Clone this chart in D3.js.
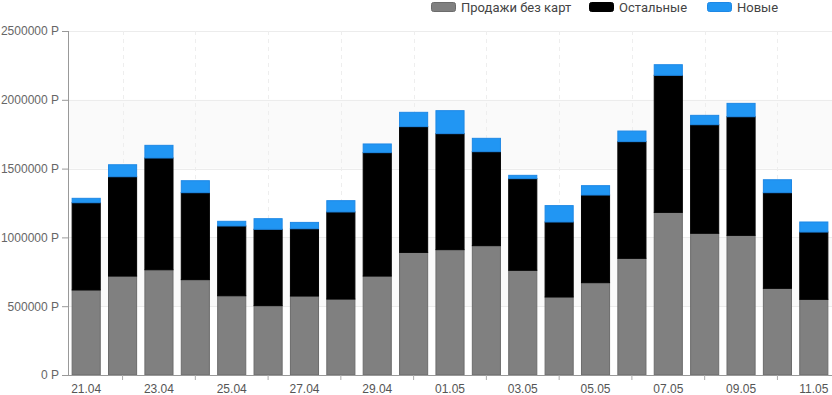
<!DOCTYPE html>
<html>
<head>
<meta charset="utf-8">
<script src="https://cdn.jsdelivr.net/npm/d3@7"></script>
<style>
  body { margin: 0; background: #fff; }
  svg { display: block; font-family: Roboto, "Noto Sans", sans-serif; }
</style>
</head>
<body>
<svg id="chart" width="832" height="395"></svg>
<script>
"use strict";

// даты по оси X
var dates = ["21.04","22.04","23.04","24.04","25.04","26.04","27.04","28.04","29.04","30.04",
             "01.05","02.05","03.05","04.05","05.05","06.05","07.05","08.05","09.05","10.05","11.05"];

// значения серий (руб.)
var salesNoCards = [618000,719000,765000,693000,576000,504000,574000,552000,719000,891000,
                    911000,940000,761000,567000,671000,848000,1182000,1030000,1015000,630000,550000];
var others = [634000,722000,812000,632000,507000,555000,489000,633000,897000,914000,
              843000,683000,666000,545000,637000,848000,996000,789000,862000,695000,489000];
var newOnes = [32000,87000,92000,87000,34000,77000,46000,82000,63000,104000,
               167000,97000,24000,119000,68000,77000,77000,68000,97000,94000,73000];

var seriesNames = ["Продажи без карт", "Остальные", "Новые"];
var yTicks = [0, 500000, 1000000, 1500000, 2000000, 2500000];

var fills = ["#808080", "#000000", "#2196f3"];
var strokes = ["#6c6c6c", "#000000", "#1e88e5"];

var svg = d3.select("#chart");
var margin = {left: 68, right: 0, top: 31, bottom: 20};
var width = 832 - margin.left - margin.right;
var height = 395 - margin.top - margin.bottom;

var g = svg.append("g").attr("transform", "translate(" + margin.left + "," + margin.top + ")");

var x = d3.scaleBand().domain(dates).range([0, width]).paddingInner(0.2).paddingOuter(0.1);
var y = d3.scaleLinear().domain([0, 2500000]).range([height, 0]);

// полосы фона
for (var i = 0; i < yTicks.length - 1; i++) {
  if (i % 2 === 0) continue;
  g.append("rect")
    .attr("x", 0).attr("width", width)
    .attr("y", y(yTicks[i + 1])).attr("height", y(yTicks[i]) - y(yTicks[i + 1]))
    .attr("fill", "#fafafa");
}

// горизонтальная сетка
g.selectAll(".hgrid").data(yTicks).enter().append("line")
  .attr("x1", 0).attr("x2", width)
  .attr("y1", function(d) { return Math.round(y(d)) + 0.5; })
  .attr("y2", function(d) { return Math.round(y(d)) + 0.5; })
  .attr("stroke", "#ececec");

// вертикальная сетка (пунктир) на неподписанных датах
g.selectAll(".vgrid").data(dates.filter(function(d, i) { return i % 2 === 1; })).enter().append("line")
  .attr("x1", function(d) { return Math.round(x(d) + x.bandwidth() / 2) + 0.5; })
  .attr("x2", function(d) { return Math.round(x(d) + x.bandwidth() / 2) + 0.5; })
  .attr("y1", 0).attr("y2", height)
  .attr("stroke", "#eeeeee")
  .attr("stroke-dasharray", "4,4");

// стек
var table = dates.map(function(d, i) {
  return {date: d, a: salesNoCards[i], b: others[i], c: newOnes[i]};
});
var stacked = d3.stack().keys(["a", "b", "c"])(table);

stacked.forEach(function(layer, k) {
  g.selectAll(".bar" + k).data(layer).enter().append("rect")
    .attr("x", function(d) { return x(d.data.date) + 0.5; })
    .attr("width", x.bandwidth() - 1)
    .attr("y", function(d) { return y(d[1]); })
    .attr("height", function(d) { return y(d[0]) - y(d[1]); })
    .attr("fill", fills[k])
    .attr("stroke", strokes[k])
    .attr("stroke-width", 1);
});

// ось Y
var yAxis = g.append("g")
  .call(d3.axisLeft(y).tickValues(yTicks).tickSize(6).tickPadding(3)
    .tickFormat(function(d) { return d + " Р"; }));
yAxis.select(".domain").attr("stroke", "#999").attr("d", "M0.5,0V" + height);
yAxis.selectAll(".tick line").attr("stroke", "#999");
yAxis.selectAll("text").attr("fill", "#666").style("font-size", "12px").attr("font-family", null);

// ось X
var xAxis = g.append("g")
  .attr("transform", "translate(0," + height + ")")
  .call(d3.axisBottom(x).tickSize(5).tickPadding(4));
xAxis.select(".domain").attr("stroke", "#999").attr("d", "M0,0.5H" + width);
xAxis.selectAll(".tick line").attr("stroke", "#aaa")
  .attr("display", function(d, i) { return i % 2 === 0 ? "none" : null; });
xAxis.selectAll("text").attr("fill", "#555").style("font-size", "12px").attr("font-family", null)
  .text(function(d, i) { return i % 2 === 0 ? d : ""; });

// легенда
var legendX = [431, 589, 707];
var legend = svg.append("g");
seriesNames.forEach(function(name, k) {
  legend.append("rect")
    .attr("x", legendX[k] + 0.5).attr("y", 2.5)
    .attr("width", 24).attr("height", 9)
    .attr("rx", 2)
    .attr("fill", fills[k]).attr("stroke", strokes[k]);
  legend.append("text")
    .attr("x", legendX[k] + 30).attr("y", 7)
    .attr("dy", "0.35em")
    .attr("fill", "#444")
    .style("font-size", "13px")
    .text(name);
});
</script>
</body>
</html>
